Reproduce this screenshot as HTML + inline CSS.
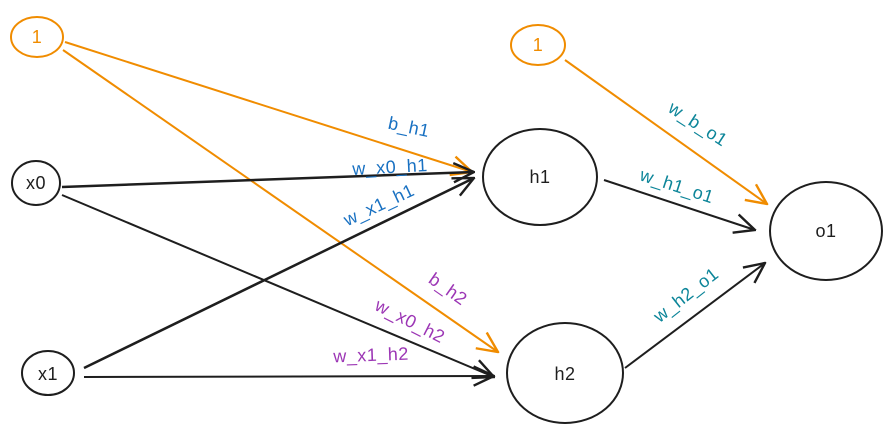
<!DOCTYPE html>
<html><head><meta charset="utf-8"><style>html,body{margin:0;padding:0;background:#fff}svg{display:block}</style></head>
<body>
<svg width="893" height="432" viewBox="0 0 893 432" xmlns="http://www.w3.org/2000/svg" font-family="Liberation Sans, sans-serif">
<defs>
<marker id="ab" viewBox="0 0 20 20" refX="19" refY="10" markerWidth="24" markerHeight="24" markerUnits="userSpaceOnUse" orient="auto"><path d="M2 2 L19 10 L2 18" fill="none" stroke="#1e1e1e" stroke-width="2"/></marker>
<marker id="ao" viewBox="0 0 20 20" refX="19" refY="10" markerWidth="24" markerHeight="24" markerUnits="userSpaceOnUse" orient="auto"><path d="M2 2 L19 10 L2 18" fill="none" stroke="#f08c00" stroke-width="2"/></marker>
</defs>
<g fill="none" stroke-width="2">
<ellipse cx="37" cy="37" rx="26" ry="20" stroke="#f08c00"/>
<ellipse cx="538" cy="45" rx="27" ry="20" stroke="#f08c00"/>
<ellipse cx="36" cy="183" rx="24" ry="22" stroke="#1e1e1e"/>
<ellipse cx="48" cy="373" rx="26" ry="22" stroke="#1e1e1e"/>
<ellipse cx="540" cy="177" rx="57" ry="48" stroke="#1e1e1e"/>
<ellipse cx="565" cy="373" rx="58" ry="50" stroke="#1e1e1e"/>
<ellipse cx="826" cy="231" rx="56" ry="49" stroke="#1e1e1e"/>
<line x1="65" y1="42" x2="472" y2="172" stroke="#f08c00" marker-end="url(#ao)"/>
<line x1="63" y1="50" x2="498" y2="352" stroke="#f08c00" marker-end="url(#ao)"/>
<line x1="565" y1="60" x2="767" y2="204" stroke="#f08c00" marker-end="url(#ao)"/>
<line x1="62" y1="187" x2="474" y2="172" stroke="#1e1e1e" stroke-width="2.5" marker-end="url(#ab)"/>
<line x1="62" y1="195" x2="494" y2="377" stroke="#1e1e1e" marker-end="url(#ab)"/>
<line x1="84" y1="368" x2="474" y2="178" stroke="#1e1e1e" stroke-width="2.5" marker-end="url(#ab)"/>
<line x1="84" y1="377" x2="494" y2="376" stroke="#1e1e1e" marker-end="url(#ab)"/>
<line x1="604" y1="180" x2="755" y2="230" stroke="#1e1e1e" marker-end="url(#ab)"/>
<line x1="625" y1="368" x2="765" y2="263" stroke="#1e1e1e" marker-end="url(#ab)"/>
</g>
<g font-size="18" text-anchor="middle" dominant-baseline="central" letter-spacing="0.5">
<text x="37" y="37" fill="#f08c00">1</text>
<text x="538" y="45" fill="#f08c00">1</text>
<text x="36" y="183" fill="#1e1e1e">x0</text>
<text x="48" y="374" fill="#1e1e1e">x1</text>
<text x="540" y="177" fill="#1e1e1e">h1</text>
<text x="565" y="374" fill="#1e1e1e">h2</text>
<text x="826" y="231" fill="#1e1e1e">o1</text>
<g fill="#1971c2">
<text transform="translate(409,127) rotate(12)">b_h1</text>
<text transform="translate(390,167) rotate(-3)">w_x0_h1</text>
<text transform="translate(379,205) rotate(-25)">w_x1_h1</text>
</g>
<g fill="#9c36b5">
<text transform="translate(448,289) rotate(35)">b_h2</text>
<text transform="translate(410,321) rotate(27)">w_x0_h2</text>
<text transform="translate(371,355) rotate(-2)">w_x1_h2</text>
</g>
<g fill="#0c8599">
<text transform="translate(698,124) rotate(33)">w_b_o1</text>
<text transform="translate(677,186) rotate(18)">w_h1_o1</text>
<text transform="translate(686,295) rotate(-38)">w_h2_o1</text>
</g>
</g>
</svg>
</body></html>
